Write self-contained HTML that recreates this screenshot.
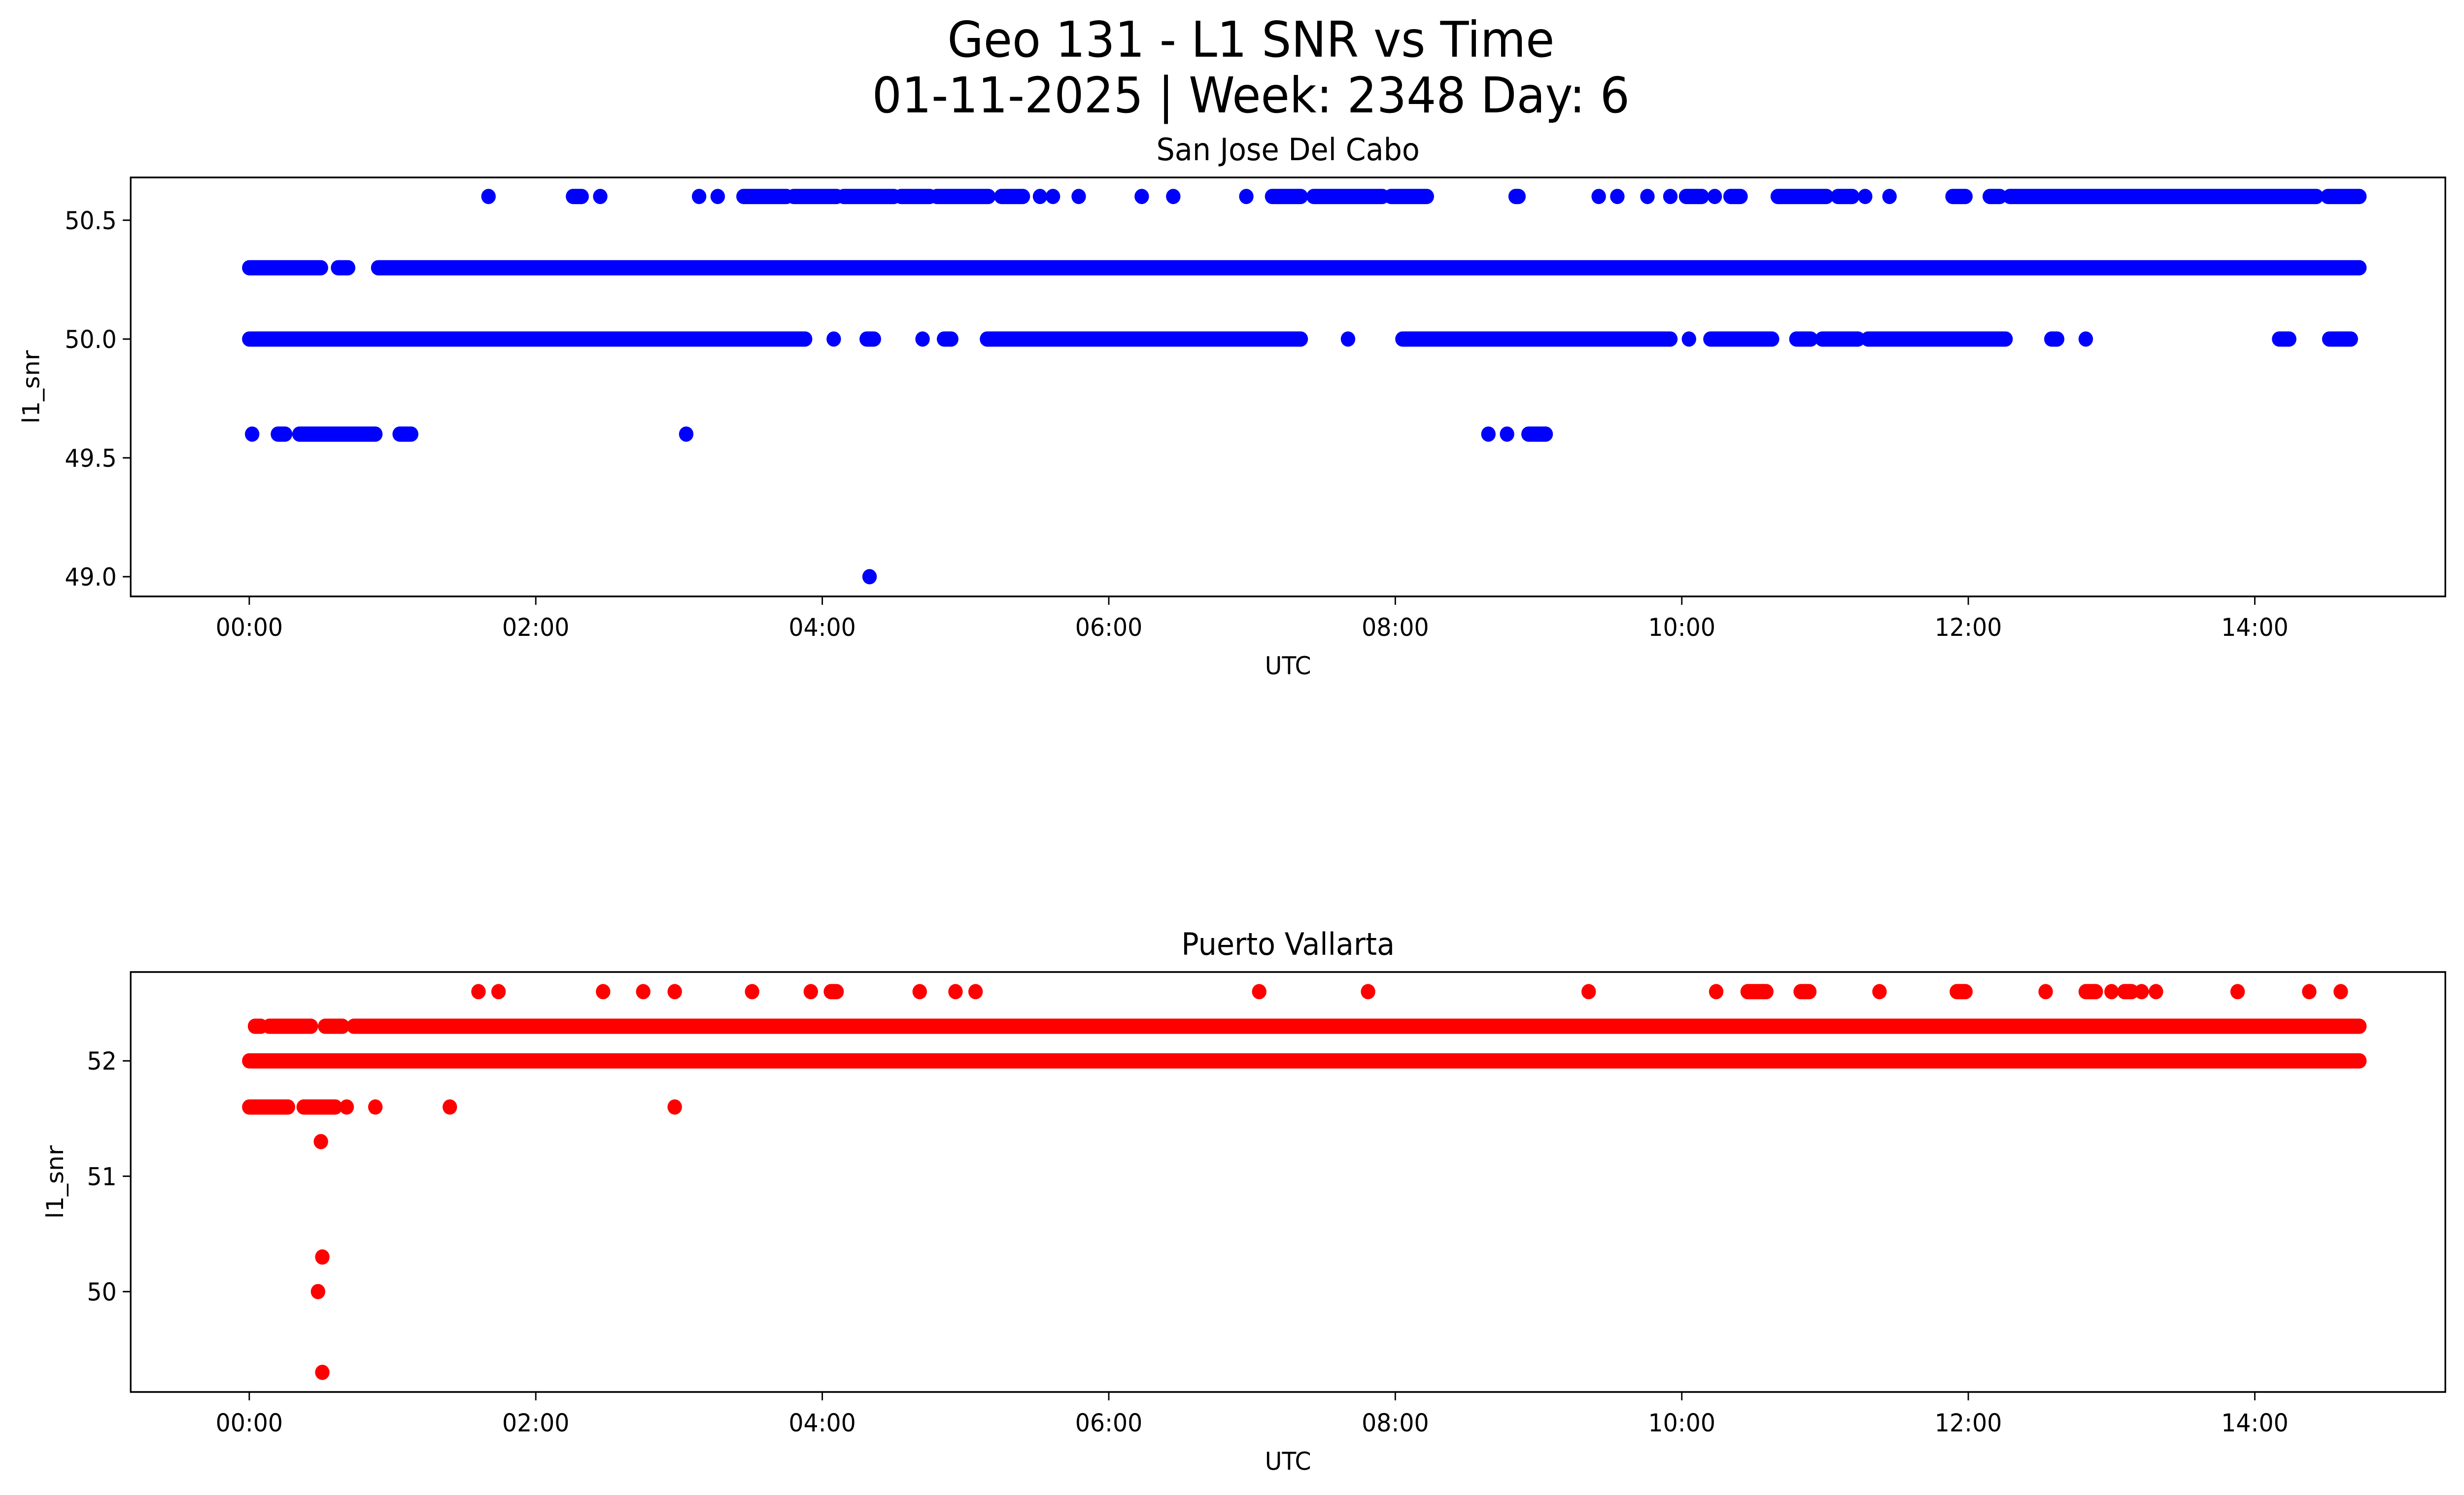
<!DOCTYPE html>
<html><head><meta charset="utf-8"><style>
html,body{margin:0;padding:0;background:#fff;overflow:hidden;width:100%;height:100%;}
svg{display:block;font-family:"DejaVu Sans","Liberation Sans",sans-serif;width:100vw;height:100vh;}
</style></head><body>
<svg id="fig" viewBox="0 0 5279 3033" preserveAspectRatio="none" xmlns="http://www.w3.org/2000/svg">
<rect width="5279" height="3033" fill="#fff"/>
<text x="2680" y="115" font-size="100" text-anchor="middle">Geo 131 - L1 SNR vs Time</text>
<text x="2680" y="228" font-size="100" text-anchor="middle">01-11-2025 | Week: 2348 Day: 6</text>
<g id="p1"></g>
<g id="p2"></g>
</svg>
<script>
// Top panel: San Jose Del Cabo — runs of consecutive samples [startHour, endHour] per SNR level
const sjLevels = [50.6, 50.3, 50.0, 49.6, 49.0];
const sjRuns506 = [[1.67,1.67],[2.26,2.32],[2.45,2.45],[3.14,3.14],[3.27,3.27],[3.45,3.75],[3.8,4.1],[4.15,4.5],[4.55,4.75],[4.8,5.16],[5.25,5.40],[5.52,5.52],[5.61,5.61],[5.79,5.79],[6.23,6.23],[6.45,6.45],[6.96,6.96],[7.14,7.34],[7.43,7.91],[7.97,8.22],[8.84,8.86],[9.42,9.42],[9.55,9.55],[9.76,9.76],[9.92,9.92],[10.03,10.14],[10.23,10.23],[10.34,10.41],[10.67,11.01],[11.09,11.19],[11.28,11.28],[11.45,11.45],[11.89,11.98],[12.15,12.22],[12.29,14.43],[14.51,14.73]];
const sjRuns503 = [[0.0,0.50],[0.62,0.69],[0.90,14.73]];
const sjRuns500 = [[0.0,3.88],[4.08,4.08],[4.31,4.36],[4.70,4.70],[4.85,4.90],[5.15,7.34],[7.67,7.67],[8.05,9.92],[10.05,10.05],[10.2,10.63],[10.8,10.9],[10.98,11.23],[11.3,12.26],[12.58,12.62],[12.82,12.82],[14.17,14.24],[14.52,14.67]];
const sjRuns496 = [[0.02,0.02],[0.2,0.25],[0.35,0.88],[1.05,1.13],[3.05,3.05],[8.65,8.65],[8.78,8.78],[8.93,9.05]];
const sjRuns490 = [[4.33,4.33]];
const sjSeries = [sjRuns506, sjRuns503, sjRuns500, sjRuns496, sjRuns490];
const sjYTicks = [49.0, 49.5, 50.0, 50.5];
const sjYTickLabels = ["49.0", "49.5", "50.0", "50.5"];

// Bottom panel: Puerto Vallarta
const pvLevels = [52.6, 52.3, 52.0, 51.6, 51.3, 50.3, 50.0, 49.3];
const pvRuns526 = [[1.60,1.60],[1.74,1.74],[2.47,2.47],[2.75,2.75],[2.97,2.97],[3.51,3.51],[3.92,3.92],[4.06,4.10],[4.68,4.68],[4.93,4.93],[5.07,5.07],[7.05,7.05],[7.81,7.81],[9.35,9.35],[10.24,10.24],[10.46,10.59],[10.83,10.89],[11.38,11.38],[11.92,11.98],[12.54,12.54],[12.82,12.89],[13.0,13.0],[13.09,13.14],[13.21,13.21],[13.31,13.31],[13.88,13.88],[14.38,14.38],[14.60,14.60]];
const pvRuns523 = [[0.04,0.08],[0.14,0.43],[0.53,0.65],[0.73,14.73]];
const pvRuns520 = [[0.0,14.73]];
const pvRuns516 = [[0.0,0.27],[0.38,0.6],[0.68,0.68],[0.88,0.88],[1.40,1.40],[2.97,2.97]];
const pvRuns513 = [[0.50,0.50]];
const pvRuns503 = [[0.51,0.51]];
const pvRuns500 = [[0.48,0.48]];
const pvRuns493 = [[0.51,0.51]];
const pvSeries = [pvRuns526, pvRuns523, pvRuns520, pvRuns516, pvRuns513, pvRuns503, pvRuns500, pvRuns493];
const pvYTicks = [50, 51, 52];
const pvYTickLabels = ["50", "51", "52"];

const xTicks = [0, 2, 4, 6, 8, 10, 12, 14];
const xTickLabels = ["00:00","02:00","04:00","06:00","08:00","10:00","12:00","14:00"];

const NS = "http://www.w3.org/2000/svg";
function mk(tag, attrs, parent){ const e=document.createElementNS(NS,tag); for(const k in attrs) e.setAttribute(k,attrs[k]); parent.appendChild(e); return e; }

function drawPanel(g, box, ymin, ymax, levels, series, yt, ytl, color, title, slug){
  const X0=-0.8278, X1=15.33; // hours at axes edges
  const xs = h => box.l + (h - X0)/(X1 - X0)*(box.r - box.l);
  const ys = v => box.b - (v - ymin)/(ymax - ymin)*(box.b - box.t);
  series.forEach((runs, i) => {
    const y = ys(levels[i]);
    runs.forEach((r, j) => {
      const ln = mk('line', {x1:xs(r[0]), x2:xs(r[1]), y1:y, y2:y, stroke:color, 'stroke-width':31, 'stroke-linecap':'round'}, g);
      
      
    });
  });
  const fr = mk('rect', {x:box.l, y:box.t, width:box.r-box.l, height:box.b-box.t, fill:'none', stroke:'#000', 'stroke-width':3.5}, g);
  
  
  xTicks.forEach((h, i) => {
    const x = xs(h);
    const t = mk('line', {x1:x, x2:x, y1:box.b, y2:box.b+17, stroke:'#000', 'stroke-width':3}, g);
    
    
    const lb = mk('text', {x:x, y:box.b+80, 'font-size':50, 'text-anchor':'middle'}, g);
    lb.textContent = xTickLabels[i];
    
    
  });
  yt.forEach((v, i) => {
    const y = ys(v);
    const t = mk('line', {x1:box.l-17, x2:box.l, y1:y, y2:y, stroke:'#000', 'stroke-width':3}, g);
    
    
    const lb = mk('text', {x:box.l-30, y:y+18, 'font-size':50, 'text-anchor':'end'}, g);
    lb.textContent = ytl[i];
    
    
  });
  const xl = mk('text', {x:(box.l+box.r)/2, y:box.b+158, 'font-size':50, 'text-anchor':'middle'}, g);
  xl.textContent = 'UTC';
  
  
  const ylx = box.ylx, ylyc = (box.t+box.b)/2;
  const yl = mk('text', {x:ylx, y:ylyc, 'font-size':50, 'text-anchor':'middle', transform:'rotate(-90 '+ylx+' '+ylyc+')'}, g);
  yl.textContent = 'l1_snr';
  
  
  const tt = mk('text', {x:(box.l+box.r)/2, y:box.t-35, 'font-size':62, 'text-anchor':'middle'}, g);
  tt.textContent = title;
  
  
}

drawPanel(document.getElementById('p1'), {l:280, r:5239, t:360, b:1210, ylx:84}, 48.917, 50.68, sjLevels, sjSeries, sjYTicks, sjYTickLabels, '#0000ff', 'San Jose Del Cabo', 'sjdc');
drawPanel(document.getElementById('p2'), {l:280, r:5239, t:1972, b:2824, ylx:135}, 49.13, 52.77, pvLevels, pvSeries, pvYTicks, pvYTickLabels, '#ff0000', 'Puerto Vallarta', 'pv');
</script>
</body></html>
